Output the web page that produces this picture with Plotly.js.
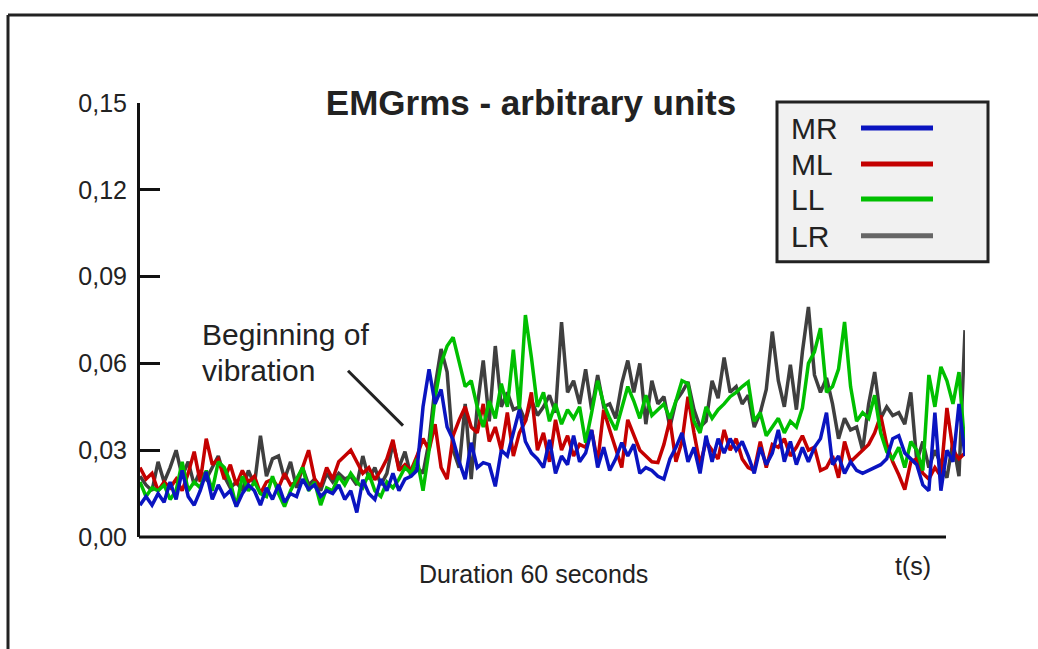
<!DOCTYPE html>
<html>
<head>
<meta charset="utf-8">
<script src="https://cdn.plot.ly/plotly-3.0.1.min.js"></script>
<style>
  html, body { margin: 0; padding: 0; background: #ffffff; }
  #chart { width: 1038px; height: 649px; }
</style>
</head>
<body>
<div id="chart"></div>
<script>
// ---- Data (EMG rms, arbitrary units, 60 s recording) ----
const seriesNames = ['MR', 'ML', 'LL', 'LR'];
const durationSeconds = 60;
const yTickValues = [0, 0.03, 0.06, 0.09, 0.12, 0.15];
const yTickLabels = ['0,00', '0,03', '0,06', '0,09', '0,12', '0,15'];
const chartTitle = 'EMGrms - arbitrary units';
const xAxisLabel = 'Duration 60 seconds';
const xUnitLabel = 't(s)';
const annotationLines = ['Beginning of', 'vibration'];

const MR = [0.011,0.014,0.011,0.015,0.012,0.019,0.013,0.023,0.014,0.011,
0.016,0.0225,0.013,0.018,0.014,0.016,0.0105,0.015,0.018,0.016,
0.011,0.017,0.013,0.018,0.012,0.015,0.014,0.020,0.0165,0.018,
0.014,0.016,0.015,0.018,0.013,0.016,0.0085,0.0198,0.015,0.013,
0.020,0.016,0.022,0.016,0.020,0.021,0.023,0.045,0.058,0.046,
0.051,0.038,0.0336,0.026,0.020,0.0326,0.024,0.0257,0.025,0.0175,
0.030,0.028,0.036,0.044,0.033,0.029,0.027,0.024,0.0336,0.022,
0.028,0.025,0.035,0.026,0.029,0.037,0.024,0.031,0.023,0.027,
0.0326,0.028,0.032,0.022,0.024,0.023,0.021,0.020,0.027,0.031,
0.036,0.026,0.031,0.022,0.035,0.026,0.034,0.029,0.034,0.030,
0.033,0.028,0.022,0.031,0.025,0.029,0.037,0.026,0.033,0.025,
0.031,0.026,0.031,0.034,0.043,0.025,0.028,0.022,0.026,0.023,
0.022,0.023,0.024,0.025,0.027,0.034,0.035,0.029,0.027,0.025,
0.018,0.016,0.043,0.016,0.030,0.026,0.046,0.028];

const ML = [0.024,0.020,0.022,0.016,0.019,0.017,0.020,0.016,0.022,0.0295,
0.019,0.034,0.025,0.027,0.020,0.025,0.018,0.023,0.019,0.021,
0.015,0.019,0.020,0.017,0.022,0.018,0.019,0.024,0.030,0.020,
0.0174,0.024,0.020,0.026,0.028,0.030,0.026,0.022,0.024,0.0198,
0.023,0.027,0.0336,0.023,0.025,0.023,0.028,0.034,0.030,0.039,
0.024,0.020,0.035,0.0405,0.045,0.038,0.036,0.046,0.033,0.038,
0.030,0.043,0.028,0.036,0.040,0.050,0.030,0.036,0.026,0.0405,
0.030,0.035,0.028,0.032,0.031,0.037,0.0257,0.044,0.037,0.030,
0.024,0.0405,0.035,0.030,0.028,0.026,0.0257,0.032,0.0405,0.026,
0.033,0.0485,0.036,0.025,0.033,0.030,0.027,0.037,0.030,0.034,
0.027,0.024,0.023,0.033,0.024,0.032,0.031,0.034,0.028,0.031,
0.035,0.030,0.031,0.023,0.024,0.028,0.0205,0.033,0.026,0.028,
0.030,0.032,0.036,0.042,0.032,0.026,0.0215,0.0164,0.026,0.027,
0.022,0.020,0.024,0.021,0.0446,0.030,0.027,0.029];

const LL = [0.019,0.014,0.017,0.016,0.018,0.013,0.016,0.026,0.016,0.019,
0.017,0.023,0.016,0.026,0.024,0.019,0.0105,0.021,0.016,0.019,
0.015,0.014,0.021,0.015,0.0105,0.016,0.020,0.024,0.016,0.019,
0.011,0.017,0.016,0.021,0.018,0.022,0.019,0.017,0.022,0.016,
0.014,0.019,0.017,0.020,0.024,0.022,0.027,0.016,0.030,0.048,
0.060,0.066,0.069,0.060,0.052,0.054,0.045,0.038,0.047,0.041,
0.053,0.045,0.0647,0.044,0.0767,0.062,0.045,0.050,0.040,0.046,
0.039,0.044,0.041,0.045,0.0326,0.043,0.054,0.046,0.041,0.037,
0.045,0.052,0.047,0.041,0.049,0.042,0.044,0.046,0.041,0.047,
0.054,0.053,0.040,0.036,0.045,0.041,0.044,0.046,0.0485,0.050,
0.052,0.0536,0.040,0.043,0.035,0.038,0.041,0.036,0.040,0.038,
0.0446,0.060,0.064,0.0722,0.050,0.052,0.058,0.0743,0.052,0.040,
0.043,0.041,0.049,0.036,0.0295,0.027,0.031,0.024,0.033,0.030,
0.023,0.056,0.045,0.0588,0.054,0.046,0.057,0.030];

const LR = [0.021,0.018,0.016,0.026,0.019,0.024,0.030,0.021,0.026,0.018,
0.023,0.020,0.024,0.028,0.021,0.017,0.019,0.016,0.023,0.018,
0.035,0.021,0.027,0.028,0.020,0.026,0.017,0.024,0.018,0.020,
0.016,0.022,0.019,0.022,0.020,0.021,0.018,0.028,0.020,0.024,
0.018,0.022,0.0325,0.024,0.0295,0.021,0.024,0.022,0.033,0.052,
0.065,0.057,0.030,0.024,0.046,0.020,0.045,0.061,0.040,0.066,
0.045,0.050,0.044,0.045,0.040,0.0474,0.042,0.045,0.049,0.043,
0.0743,0.050,0.054,0.046,0.058,0.044,0.056,0.045,0.046,0.041,
0.053,0.061,0.050,0.060,0.039,0.054,0.046,0.0485,0.038,0.047,
0.050,0.0536,0.044,0.038,0.040,0.054,0.048,0.062,0.050,0.052,
0.046,0.049,0.038,0.043,0.051,0.071,0.054,0.045,0.0595,0.044,
0.064,0.0795,0.056,0.050,0.055,0.046,0.034,0.041,0.037,0.038,
0.030,0.046,0.057,0.041,0.045,0.042,0.043,0.039,0.050,0.026,
0.033,0.024,0.030,0.025,0.0205,0.033,0.021,0.0715];

// ---- Styles ----
const FONT = 'Liberation Sans, Arial, Helvetica, sans-serif';
const TEXT = '#222222';
const lineColors = { MR: '#0a14c0', ML: '#c40000', LL: '#00bf00', LR: '#3f3f3f' };
const legendColors = { MR: '#0a14c0', ML: '#c40000', LL: '#00bf00', LR: '#666666' };
const seriesData = { MR: MR, ML: ML, LL: LL, LR: LR };
const drawOrder = ['LR', 'ML', 'LL', 'MR'];

// pixel helpers (plot area: x 140..965, y 103..537.5)
const L = 140, R = 965, T = 103, B = 537.5, W = 1038, H = 649;
const px = x => (x - L) / (R - L);
const py = y => (B - y) / (B - T);

const traces = drawOrder.map(name => {
  const vals = seriesData[name];
  return {
    type: 'scatter',
    mode: 'lines',
    name: name,
    x0: 0,
    dx: durationSeconds / (vals.length - 1),
    y: vals,
    line: { color: lineColors[name], width: 3.5 },
    showlegend: false,
    hoverinfo: 'skip'
  };
});

const shapes = [
  // outer frame (top and left)
  { type: 'line', xref: 'paper', yref: 'paper', x0: px(8), x1: px(1040), y0: py(15), y1: py(15), line: { color: TEXT, width: 3 } },
  { type: 'line', xref: 'paper', yref: 'paper', x0: px(8), x1: px(8), y0: py(15), y1: py(652), line: { color: TEXT, width: 3 } },
  // x axis line (shorter than data span)
  { type: 'line', xref: 'paper', yref: 'paper', x0: px(139), x1: px(946), y0: 0, y1: 0, line: { color: '#111111', width: 3 } },
  // pointer line for annotation
  { type: 'line', xref: 'paper', yref: 'paper', x0: px(348), x1: px(403), y0: py(371), y1: py(426), line: { color: TEXT, width: 3 } },
  // legend box
  { type: 'rect', xref: 'paper', yref: 'paper', x0: px(777), x1: px(988), y0: py(102), y1: py(262), fillcolor: '#f1f1f1', line: { color: TEXT, width: 3 }, layer: 'above' }
];

const legendRows = [128, 164, 199, 236];
seriesNames.forEach((name, i) => {
  shapes.push({ type: 'line', xref: 'paper', yref: 'paper', x0: px(861), x1: px(933), y0: py(legendRows[i]), y1: py(legendRows[i]), line: { color: legendColors[name], width: 5 }, layer: 'above' });
});

const annotations = [
  { text: xAxisLabel, xref: 'paper', yref: 'paper', x: px(533), y: py(575), xanchor: 'center', yanchor: 'middle', showarrow: false, font: { family: FONT, size: 25, color: TEXT } },
  { text: xUnitLabel, xref: 'paper', yref: 'paper', x: px(913), y: py(567), xanchor: 'center', yanchor: 'middle', showarrow: false, font: { family: FONT, size: 25, color: TEXT } },
  { text: annotationLines[0], xref: 'paper', yref: 'paper', x: px(200), y: py(335), xanchor: 'left', yanchor: 'middle', showarrow: false, font: { family: FONT, size: 30, color: TEXT } },
  { text: annotationLines[1], xref: 'paper', yref: 'paper', x: px(200), y: py(371), xanchor: 'left', yanchor: 'middle', showarrow: false, font: { family: FONT, size: 30, color: TEXT } }
];
seriesNames.forEach((name, i) => {
  annotations.push({ text: name, xref: 'paper', yref: 'paper', x: px(789), y: py(legendRows[i] + 1), xanchor: 'left', yanchor: 'middle', showarrow: false, font: { family: FONT, size: 30, color: TEXT } });
});

const layout = {
  width: W, height: H,
  margin: { l: L, r: W - R, t: T, b: H - B, pad: 0 },
  paper_bgcolor: '#ffffff',
  plot_bgcolor: '#ffffff',
  showlegend: false,
  separators: ', ',
  title: {
    text: '<b>' + chartTitle + '</b>',
    font: { family: FONT, size: 35, color: TEXT },
    xref: 'container', yref: 'container',
    x: 531 / W, xanchor: 'center',
    y: 1 - 103 / H, yanchor: 'middle'
  },
  xaxis: {
    range: [0, durationSeconds],
    visible: true,
    showline: false, showgrid: false, zeroline: false,
    showticklabels: false, ticks: ''
  },
  yaxis: {
    range: [0, 0.15],
    tickvals: yTickValues,
    ticktext: yTickLabels,
    ticks: 'inside', ticklen: 20, tickwidth: 3, tickcolor: '#111111',
    showline: true, linewidth: 3, linecolor: '#111111',
    showgrid: false, zeroline: false,
    ticklabelstandoff: 5,
    tickfont: { family: FONT, size: 25, color: TEXT }
  },
  shapes: shapes,
  annotations: annotations
};

Plotly.newPlot('chart', traces, layout, { staticPlot: true, displayModeBar: false });
</script>
</body>
</html>
